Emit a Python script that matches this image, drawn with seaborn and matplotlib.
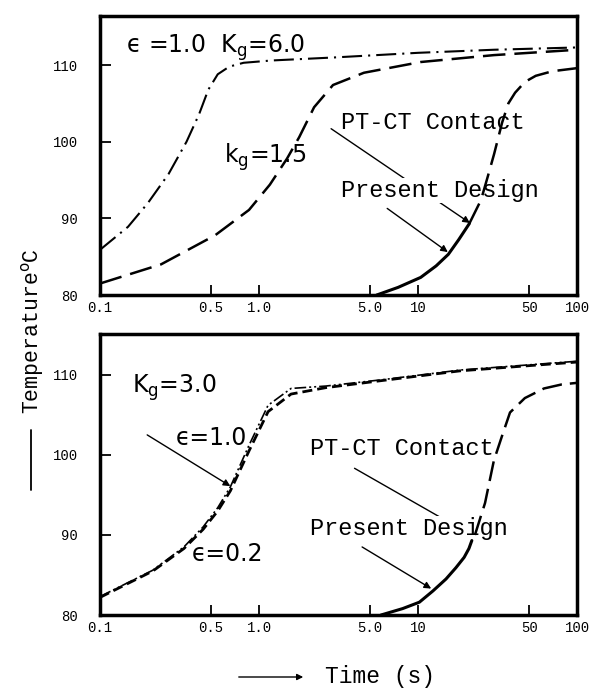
import matplotlib
matplotlib.use("Agg")
import matplotlib.pyplot as plt
from matplotlib.lines import Line2D
import seaborn as sns

# ---------------- data ----------------
xticks = [0.1, 0.5, 1.0, 5.0, 10, 50, 100]
xtick_labels = ["0.1", "0.5", "1.0", "5.0", "10", "50", "100"]
yticks = [80, 90, 100, 110]
ytick_labels = ["80", "90", "100", "110"]

# top panel
top_kg6_t = [0.1, 0.15, 0.2, 0.27, 0.35, 0.42, 0.48, 0.55, 0.65, 0.8, 1.2, 3, 10, 30, 100]
top_kg6_T = [85.9, 88.9, 92.0, 95.8, 100.0, 103.6, 106.8, 108.8, 109.8, 110.3, 110.6, 111.0, 111.6, 112.0, 112.3]

top_kg15_t = [0.1, 0.242, 0.53, 0.865, 1.17, 1.5, 1.79, 2.22, 2.92, 4.57, 10.4, 30, 100]
top_kg15_T = [81.5, 84.0, 87.8, 91.1, 94.4, 97.8, 100.6, 104.5, 107.4, 109.0, 110.4, 111.3, 112.0]

top_design_t = [5.5, 7.5, 10.4, 13, 15.5, 18, 21]
top_design_T = [80, 81, 82.3, 83.8, 85.3, 87.2, 89.3]

top_contact_t = [21, 24.9, 27.5, 30.1, 33.8, 37, 40.8, 47, 55, 70, 100]
top_contact_T = [89.3, 92.4, 95.5, 98.4, 102.5, 105.0, 106.4, 107.8, 108.6, 109.2, 109.6]

# bottom panel (Kg = 3.0)
bot_eps02_t = [0.1, 0.215, 0.337, 0.445, 0.55, 0.66, 0.865, 1.14, 1.59, 2.63, 6.0, 18.4, 100]
bot_eps02_T = [82.2, 85.5, 88.3, 90.7, 93.0, 95.5, 100.5, 105.4, 107.6, 108.4, 109.3, 110.5, 111.6]

bot_eps10_t = [0.1, 0.215, 0.337, 0.445, 0.55, 0.66, 0.865, 1.14, 1.59, 2.63, 6.0, 18.4, 100]
bot_eps10_T = [82.3, 85.6, 88.5, 91.0, 93.4, 96.0, 101.2, 106.2, 108.3, 108.6, 109.4, 110.6, 111.7]

bot_design_t = [5.85, 8, 10.2, 12.4, 15, 17.3, 19.5, 20.9, 21.8]
bot_design_T = [80, 80.8, 81.6, 83.0, 84.5, 85.9, 87.2, 88.3, 89.3]

bot_contact_t = [22.8, 26.4, 30, 33.8, 37.9, 47, 62, 80, 100]
bot_contact_T = [90.0, 94.0, 99.3, 102.4, 105.3, 107.1, 108.3, 108.8, 109.0]

# ---------------- style ----------------
sns.set_theme(style="ticks")
plt.rcParams['font.family'] = ['DejaVu Sans']
plt.rcParams['mathtext.fontset'] = 'dejavusans'
plt.rcParams['text.color'] = 'black'
plt.rcParams['axes.labelcolor'] = 'black'
plt.rcParams['xtick.color'] = 'black'
plt.rcParams['ytick.color'] = 'black'
MONO = ['Liberation Mono', 'DejaVu Sans Mono']
SANS_FS = 17
MONO_FS = 17

fig = plt.figure(figsize=(6, 6.88), dpi=100)
fig.patch.set_facecolor('white')
ax1 = fig.add_axes([0.1667, 0.5712, 0.795, 0.4055])
ax2 = fig.add_axes([0.1667, 0.1061, 0.795, 0.4084])

for ax, ytop in ((ax1, 116.4), (ax2, 115.1)):
    ax.set_facecolor('white')
    ax.set_xscale('log')
    ax.set_xlim(0.1, 100)
    ax.set_ylim(80, ytop)


def line(ax, x, y, lw, ls, z=3):
    sns.lineplot(x=x, y=y, ax=ax, color='black', lw=lw, linestyle=ls,
                 legend=False, zorder=z, estimator=None, sort=False)


# top panel curves
line(ax1, top_kg6_t, top_kg6_T, 1.5, (0, (9.6, 2.9, 1.0, 2.9)))
line(ax1, top_kg15_t, top_kg15_T, 1.8, (0, (9, 3.6)))
line(ax1, top_design_t, top_design_T, 2.2, '-')
line(ax1, top_contact_t, top_contact_T, 1.8, (0, (9, 3.6)))

# bottom panel curves
line(ax2, bot_eps10_t, bot_eps10_T, 1.2, (0, (7, 1.8, 1.2, 1.8, 1.2, 1.8)))
line(ax2, bot_eps02_t, bot_eps02_T, 2.0, (0, (3.6, 1.8)))
line(ax2, bot_design_t, bot_design_T, 2.2, '-')
line(ax2, bot_contact_t, bot_contact_T, 1.8, (0, (8, 3.2)))

for ax in (ax1, ax2):
    ax.set_xticks(xticks)
    ax.set_xticklabels(xtick_labels, fontsize=10, family=MONO)
    ax.xaxis.set_minor_locator(matplotlib.ticker.NullLocator())
    ax.set_yticks(yticks)
    ax.set_yticklabels(ytick_labels, fontsize=10, family=MONO)
    ax.tick_params(axis='x', direction='in', length=7, width=1.3, pad=4,
                   top=False, colors='black')
    ax.tick_params(axis='y', direction='in', length=8, width=1.3, pad=16,
                   right=False, colors='black')
    for s in ax.spines.values():
        s.set_visible(True)
        s.set_linewidth(2.5)
        s.set_color('black')
    ax.set_xlabel('')
    ax.set_ylabel('')

arrow = dict(arrowstyle='-|>', color='black', lw=1.0, mutation_scale=10,
             shrinkA=0, shrinkB=0)
white = dict(facecolor='white', edgecolor='none', pad=0.5)

# top annotations
ax1.text(0.146, 111.6, "ϵ =1.0  K$_{\\rm g}$=6.0", fontsize=SANS_FS, va='baseline', zorder=4)
ax1.text(0.603, 97.2, "k$_{\\rm g}$=1.5", fontsize=SANS_FS, va='baseline', zorder=4)
ax1.annotate("", xy=(21.2, 89.4), xytext=(2.84, 101.7), arrowprops=arrow, zorder=1)
ax1.text(3.28, 101.6, "PT-CT Contact", fontsize=MONO_FS, family=MONO, va='baseline', zorder=2)
ax1.text(3.28, 92.8, "Present Design", fontsize=MONO_FS, family=MONO, va='baseline',
         zorder=2, bbox=white)
ax1.annotate("", xy=(15.4, 85.6), xytext=(6.4, 91.3), arrowprops=arrow, zorder=1)

# bottom annotations
ax2.text(0.159, 107.8, "K$_{\\rm g}$=3.0", fontsize=SANS_FS, va='baseline', zorder=4)
ax2.text(0.30, 101.2, "ϵ=1.0", fontsize=SANS_FS, va='baseline', zorder=4)
ax2.annotate("", xy=(0.66, 96.1), xytext=(0.198, 102.5), arrowprops=arrow, zorder=1)
ax2.text(0.38, 86.7, "ϵ=0.2", fontsize=SANS_FS, va='baseline', zorder=4)
ax2.text(2.09, 100.0, "PT-CT Contact", fontsize=MONO_FS, family=MONO, va='baseline', zorder=2)
ax2.annotate("", xy=(22.5, 89.8), xytext=(3.85, 98.5),
             arrowprops=dict(arrowstyle='-', color='black', lw=1.0), zorder=1)
ax2.text(2.09, 90.0, "Present Design", fontsize=MONO_FS, family=MONO, va='baseline',
         zorder=2, bbox=white)
ax2.annotate("", xy=(12.1, 83.3), xytext=(4.45, 88.5), arrowprops=arrow, zorder=1)

# axis titles
fig.text(33 / 600, 1 - 331 / 688, "Temperature$^{\\rm o}$C", rotation=90,
         fontsize=15.5, family=MONO, ha='center', va='center')
fig.add_artist(Line2D([31 / 600, 31 / 600], [1 - 430 / 688, 1 - 490 / 688],
                      color='black', lw=1.3))
fig.text(380 / 600, 1 - 677 / 688, "Time (s)", fontsize=16.5, family=MONO,
         ha='center', va='center')
fig.add_artist(matplotlib.patches.FancyArrowPatch(
    (236 / 600, 1 - 677 / 688), (306 / 600, 1 - 677 / 688),
    transform=fig.transFigure, arrowstyle='-|>', mutation_scale=9,
    color='black', lw=1.0))

fig.savefig("out.png", dpi=100, facecolor='white')
